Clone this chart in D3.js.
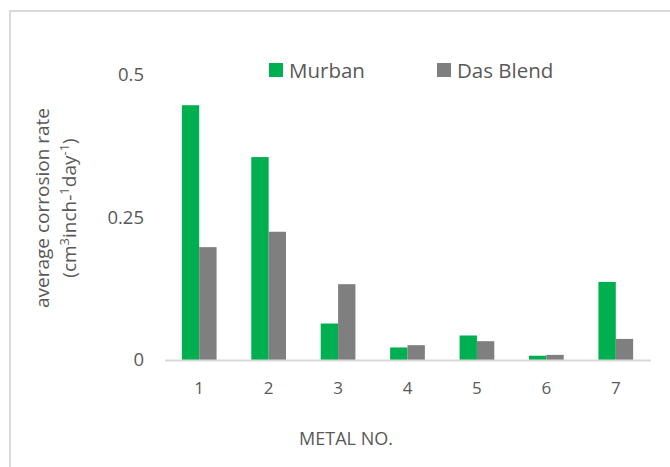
<!DOCTYPE html>
<html>
<head>
<meta charset="utf-8">
<script src="https://cdn.jsdelivr.net/npm/d3@7"></script>
<style>
  html, body { margin: 0; padding: 0; background: #fff; }
  svg { display: block; font-family: "Open Sans", "DejaVu Sans", sans-serif; }
</style>
</head>
<body>
<svg id="chart" width="670" height="467"></svg>
<script>
// Average corrosion rate per metal sample for two crude oils
const metals = ["1", "2", "3", "4", "5", "6", "7"];
const seriesNames = ["Murban", "Das Blend"];
const murban = [0.447, 0.356, 0.064, 0.022, 0.043, 0.0075, 0.137];
const dasBlend = [0.198, 0.225, 0.133, 0.026, 0.033, 0.009, 0.037];
const yTicks = [0, 0.25, 0.5];
const colors = ["#00B050", "#7F7F7F"];

const svg = d3.select("#chart");
const W = 670, H = 467;

// outer chart frame
svg.append("rect")
  .attr("x", 10).attr("y", 11)
  .attr("width", W + 10).attr("height", H + 10)
  .attr("fill", "none").attr("stroke", "#d9d9d9").attr("stroke-width", 2);

const x0 = d3.scaleBand().domain(metals).range([164.5, 650.5]).paddingInner(0.5).paddingOuter(0.25);
const x1 = d3.scaleBand().domain(seriesNames).range([0, x0.bandwidth()]);
const y = d3.scaleLinear().domain([0, 0.5]).range([360, 75]);

const values = [murban, dasBlend];
const rows = metals.map((m, i) => ({ metal: m, vals: seriesNames.map((s, k) => ({ s, v: values[k][i], k })) }));

// bars
const g = svg.append("g");
g.selectAll("g.cat").data(rows).join("g")
  .attr("class", "cat")
  .attr("transform", d => `translate(${x0(d.metal)},0)`)
  .selectAll("rect").data(d => d.vals).join("rect")
  .attr("x", d => x1(d.s))
  .attr("width", x1.bandwidth())
  .attr("y", d => y(d.v))
  .attr("height", d => y(0) - y(d.v))
  .attr("fill", d => colors[d.k]);

// x axis baseline and labels
const xAxis = d3.axisBottom(x0).tickSize(0).tickPadding(22);
const xa = svg.append("g").attr("transform", `translate(0,${y(0)})`).call(xAxis);
xa.select(".domain").attr("stroke", "#d9d9d9").attr("stroke-width", 2);
xa.selectAll("text").attr("font-size", 17).attr("fill", "#595959")
  .attr("font-family", "'Open Sans', sans-serif");

// y axis labels (no line)
const yAxis = d3.axisLeft(y).tickValues(yTicks).tickSize(0).tickPadding(0)
  .tickFormat(d => d === 0 ? "0" : String(d));
const ya = svg.append("g").attr("transform", "translate(144,0)").call(yAxis);
ya.select(".domain").remove();
ya.selectAll("text").attr("font-size", 18.5).attr("fill", "#595959")
  .attr("font-family", "'Open Sans', sans-serif");

// y axis title
const yt = svg.append("text")
  .attr("transform", "translate(49,208) rotate(-90)")
  .attr("text-anchor", "middle")
  .attr("font-size", 19).attr("fill", "#595959");
yt.append("tspan").attr("x", 0).attr("dy", 0).text("average corrosion rate");
const l2 = yt.append("tspan").attr("x", 0).attr("dy", 27);
l2.append("tspan").text("(cm");
l2.append("tspan").attr("dy", -7).attr("font-size", 13).text("3");
l2.append("tspan").attr("dy", 7).text("inch-");
l2.append("tspan").attr("dy", -7).attr("font-size", 13).text("1");
l2.append("tspan").attr("dy", 7).text("day");
l2.append("tspan").attr("dy", -7).attr("font-size", 13).text("-1");
l2.append("tspan").attr("dy", 7).text(")");

// x axis title
svg.append("text")
  .attr("x", 346).attr("y", 445)
  .attr("text-anchor", "middle")
  .attr("font-size", 18).attr("fill", "#595959")
  .text("METAL NO.");

// legend
const legendX = [269, 437];
const lg = svg.append("g").selectAll("g").data(seriesNames).join("g")
  .attr("transform", (d, i) => `translate(${legendX[i]},63)`);
lg.append("rect").attr("width", 14).attr("height", 14).attr("fill", (d, i) => colors[i]);
lg.append("text").attr("x", 20).attr("y", 14.5)
  .attr("font-size", 20.5).attr("fill", "#595959").text(d => d);
</script>
</body>
</html>
